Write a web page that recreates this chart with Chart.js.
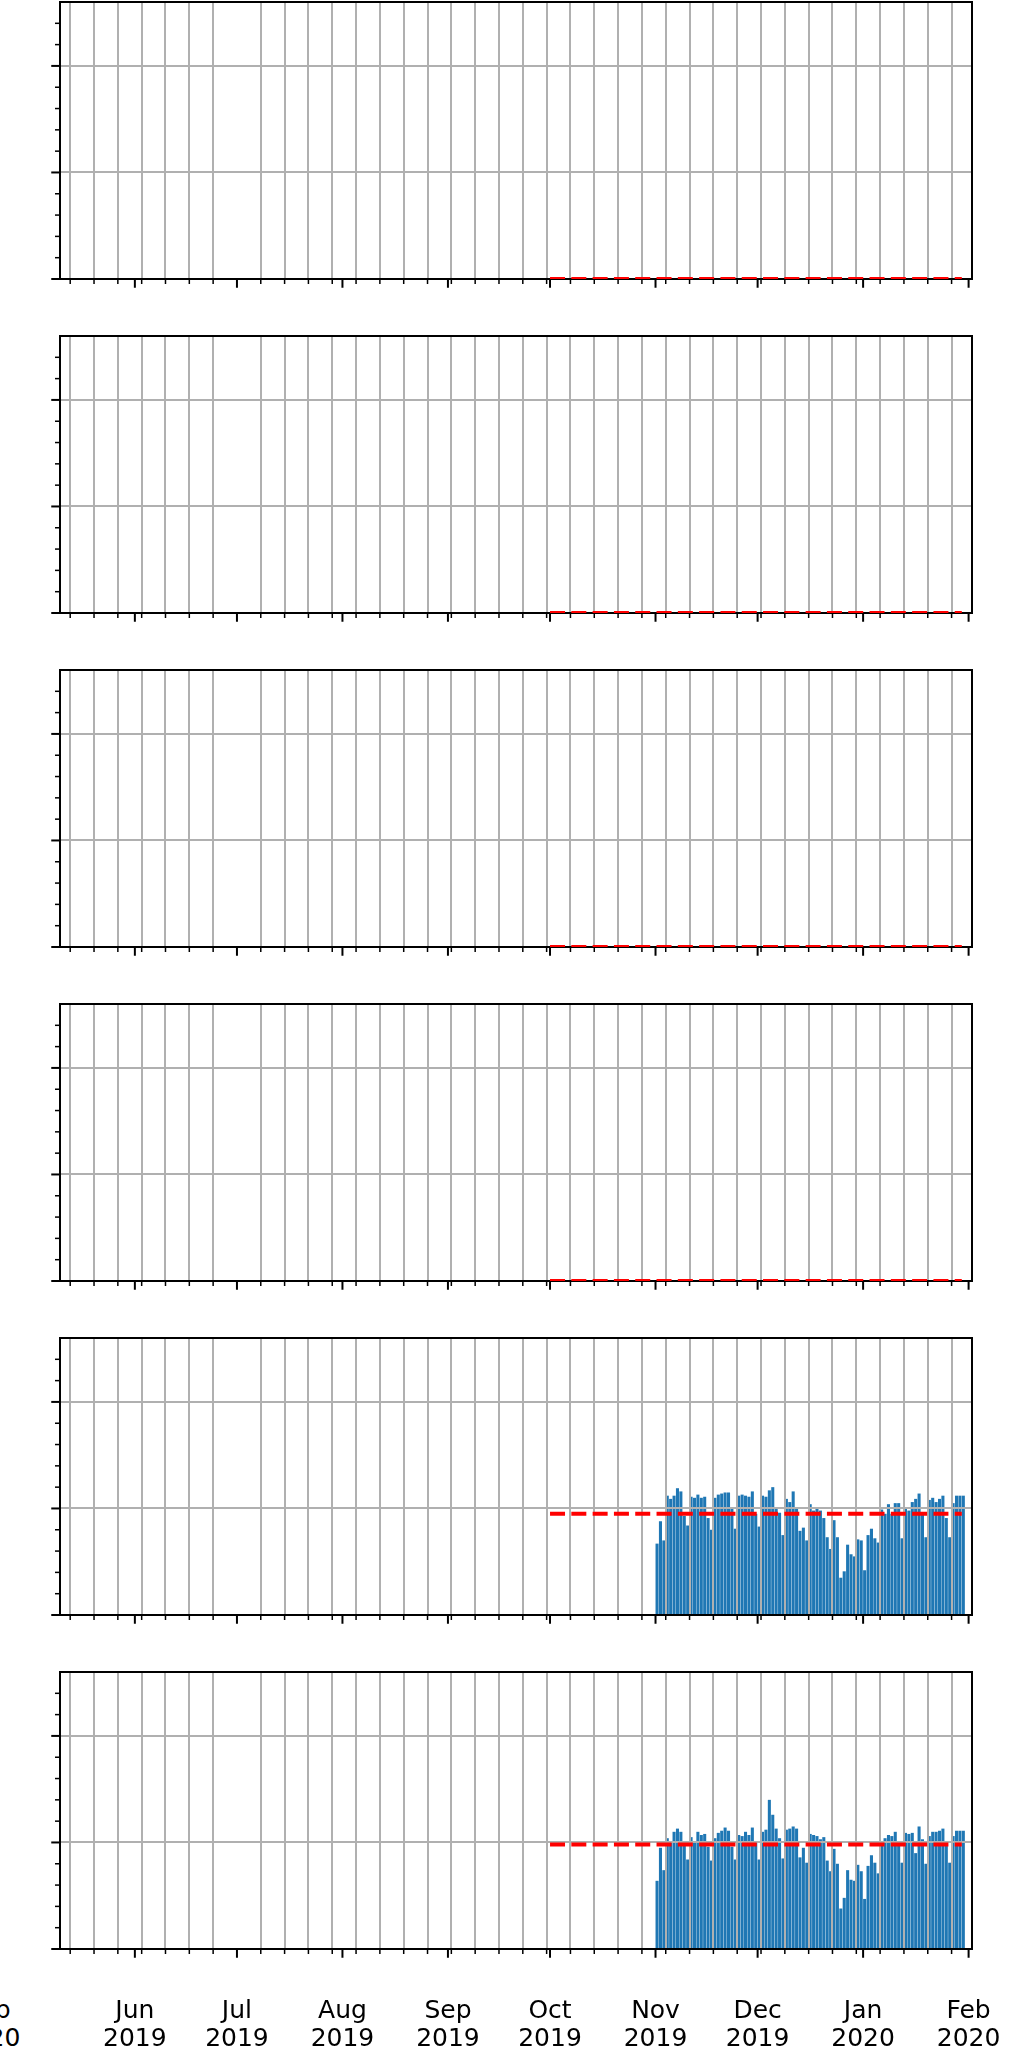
<!DOCTYPE html>
<html>
<head>
<meta charset="utf-8">
<script src="https://cdn.jsdelivr.net/npm/chart.js@4.4.1/dist/chart.umd.min.js"></script>
<style>
  html, body { margin: 0; padding: 0; background: #fff; }
  body { width: 1016px; height: 2052px; position: relative; overflow: hidden; }
  canvas { position: absolute; left: 0; }
  .cut { position: absolute; left: -61.5px; width: 100px; top: 1995.5px; text-align: center;
         font-family: 'DejaVu Sans'; font-size: 25px; line-height: 28.4px; color: #000; }
</style>
</head>
<body>
<div class="cut">Feb<br>2020</div>
<script>
  'use strict';

  // x axis: dates
  const xRange = ['2019-05-10', '2020-02-02'];
  const firstMonday = '2019-05-13';
  const monthTicks = ['2019-06-01', '2019-07-01', '2019-08-01', '2019-09-01', '2019-10-01',
                      '2019-11-01', '2019-12-01', '2020-01-01', '2020-02-01'];
  const monthLabels = [['Jun', '2019'], ['Jul', '2019'], ['Aug', '2019'], ['Sep', '2019'], ['Oct', '2019'],
                       ['Nov', '2019'], ['Dec', '2019'], ['Jan', '2020'], ['Feb', '2020']];

  // y axis (labels are cut off in the original)
  const yMax = 2.6;
  const yTicks = [0, 0.2, 0.4, 0.6, 0.8, 1, 1.2, 1.4, 1.6, 1.8, 2, 2.2, 2.4];
  const yMajor = [0, 1, 2];

  // daily bars from barStart, dashed mean line over meanSpan
  const barStart = '2019-11-01';
  const meanSpan = ['2019-10-01', '2020-01-30'];
  const panelMeans = [0, 0, 0, 0, 0.95, 0.98];

  const series5 = [
    0.67, 0.88, 0.70, 1.12, 1.09, 1.12, 1.19, 1.16, 0.93, 0.84,
    1.11, 1.10, 1.13, 1.10, 1.11, 0.91, 0.80, 1.10, 1.13, 1.14,
    1.15, 1.15, 1.00, 0.81, 1.12, 1.13, 1.12, 1.11, 1.16, 0.95,
    0.83, 1.12, 1.11, 1.17, 1.20, 1.00, 0.96, 0.75, 1.09, 1.06,
    1.16, 1.01, 0.79, 0.82, 0.70, 1.04, 0.98, 1.00, 0.98, 0.91,
    0.73, 0.62, 0.89, 0.73, 0.35, 0.41, 0.66, 0.57, 0.55, 0.71,
    0.70, 0.42, 0.75, 0.81, 0.72, 0.68, 0.99, 0.95, 1.04, 0.95,
    1.05, 1.05, 0.72, 1.01, 0.98, 1.06, 1.09, 1.14, 0.95, 0.73,
    1.08, 1.10, 1.06, 1.09, 1.12, 0.91, 0.73, 1.05, 1.12, 1.12,
    1.12
  ];
  const series6 = [
    0.64, 0.95, 0.74, 1.04, 1.01, 1.10, 1.13, 1.10, 0.98, 0.84,
    1.05, 1.01, 1.10, 1.07, 1.08, 0.96, 0.83, 1.04, 1.09, 1.11,
    1.14, 1.11, 0.96, 0.84, 1.07, 1.06, 1.10, 1.07, 1.14, 1.00,
    0.84, 1.10, 1.12, 1.40, 1.26, 1.13, 1.04, 0.85, 1.12, 1.13,
    1.15, 1.13, 0.86, 0.95, 0.81, 1.08, 1.07, 1.06, 1.03, 1.05,
    0.83, 0.73, 0.94, 0.80, 0.38, 0.48, 0.74, 0.65, 0.64, 0.79,
    0.73, 0.47, 0.78, 0.88, 0.81, 0.71, 1.01, 1.04, 1.07, 1.06,
    1.10, 1.01, 0.81, 1.09, 1.08, 1.09, 0.90, 1.15, 1.03, 0.80,
    1.06, 1.10, 1.10, 1.11, 1.13, 0.97, 0.81, 1.06, 1.11, 1.11,
    1.11
  ];
  const panelSeries = [[], [], [], [], series5, series6];

  function day(s) {
    return Date.parse(s + 'T00:00:00Z') / 864e5;
  }

  const xMin = day(xRange[0]);
  const xMax = day(xRange[1]);
  const monthDays = monthTicks.map(day);
  const weekDays = [];
  for (let d = day(firstMonday); d <= xMax; d += 7) weekDays.push(d);
  const xTickValues = Array.from(new Set(weekDays.concat(monthDays))).sort((a, b) => a - b);

  function isMonth(v) {
    return monthDays.indexOf(v) >= 0;
  }

  const PANEL_H = 334;
  const AREA_BOTTOM = 279;

  // matplotlib look: bars under the grid, frame on all sides, long/short ticks
  const axesLook = {
    id: 'axesLook',
    beforeDraw(chart) {
      chart.data.datasets.forEach((ds, i) => {
        const meta = chart.getDatasetMeta(i);
        if (meta.type === 'bar') meta.controller.draw();
      });
    },
    beforeDatasetDraw(chart, args) {
      if (args.meta.type === 'bar') return false;
    },
    beforeDatasetsDraw(chart) {
      const ctx = chart.ctx;
      const a = chart.chartArea;
      const xs = chart.scales.x;
      const ys = chart.scales.y;
      ctx.save();
      ctx.strokeStyle = '#000';

      xs.ticks.forEach(t => {
        const major = isMonth(t.value);
        const px = xs.getPixelForValue(t.value);
        ctx.lineWidth = major ? 2 : 1.5;
        ctx.beginPath();
        ctx.moveTo(px, a.bottom);
        ctx.lineTo(px, a.bottom + (major ? 8.75 : 5));
        ctx.stroke();
      });
      ys.ticks.forEach(t => {
        const major = yMajor.indexOf(t.value) >= 0;
        const py = ys.getPixelForValue(t.value);
        ctx.lineWidth = major ? 2 : 1.5;
        ctx.beginPath();
        ctx.moveTo(a.left, py);
        ctx.lineTo(a.left - (major ? 8.75 : 5), py);
        ctx.stroke();
      });

      ctx.lineWidth = 2;
      ctx.strokeRect(a.left, a.top, a.right - a.left, a.bottom - a.top);
      ctx.restore();
    }
  };

  panelSeries.forEach((series, k) => {
    const last = k === panelSeries.length - 1;
    const canvas = document.createElement('canvas');
    canvas.width = 1016;
    canvas.height = last ? 2052 - PANEL_H * k : PANEL_H;
    canvas.style.top = (PANEL_H * k) + 'px';
    document.body.appendChild(canvas);

    const datasets = [];
    if (series.length) {
      const x0 = day(barStart);
      datasets.push({
        type: 'bar',
        data: series.map((v, i) => ({ x: x0 + i + 0.45, y: v })),
        backgroundColor: '#1f77b4',
        borderWidth: 0,
        categoryPercentage: 0.9,
        barPercentage: 1
      });
    }
    datasets.push({
      type: 'line',
      data: [
        { x: day(meanSpan[0]), y: panelMeans[k] },
        { x: day(meanSpan[1]), y: panelMeans[k] }
      ],
      borderColor: '#ff0000',
      borderWidth: 4,
      borderDash: [15, 6.3],
      pointRadius: 0,
      fill: false,
      clip: 0
    });

    new Chart(canvas, {
      type: 'line',
      data: { datasets: datasets },
      plugins: [axesLook],
      options: {
        responsive: false,
        animation: false,
        events: [],
        layout: { padding: { left: 60, right: 44, top: 2, bottom: 0 } },
        plugins: {
          legend: { display: false },
          tooltip: { enabled: false }
        },
        scales: {
          x: {
            type: 'linear',
            min: xMin,
            max: xMax,
            offset: false,
            afterBuildTicks: (s) => { s.ticks = xTickValues.map(v => ({ value: v })); },
            afterFit: (s) => {
              s.height = canvas.height - AREA_BOTTOM;
              s.paddingLeft = 0;
              s.paddingRight = 0;
            },
            border: { display: false },
            grid: {
              offset: false,
              color: (c) => (c.tick && isMonth(c.tick.value)) ? 'rgba(0,0,0,0)' : '#b0b0b0',
              lineWidth: 2,
              drawTicks: false
            },
            ticks: {
              display: last,
              autoSkip: false,
              maxRotation: 0,
              minRotation: 0,
              padding: 48,
              color: '#000',
              font: { family: 'DejaVu Sans', size: 25, lineHeight: 1.135 },
              callback: (v) => {
                const i = monthDays.indexOf(v);
                return i >= 0 ? monthLabels[i] : '';
              }
            }
          },
          y: {
            type: 'linear',
            min: 0,
            max: yMax,
            afterBuildTicks: (s) => { s.ticks = yTicks.map(v => ({ value: v })); },
            afterFit: (s) => { s.width = 0; },
            border: { display: false },
            grid: {
              offset: false,
              color: (c) => (c.tick && c.tick.value > 0 && yMajor.indexOf(c.tick.value) >= 0) ? '#b0b0b0' : 'rgba(0,0,0,0)',
              lineWidth: 2,
              drawTicks: false
            },
            ticks: { display: false }
          }
        }
      }
    });
  });
</script>
</body>
</html>
